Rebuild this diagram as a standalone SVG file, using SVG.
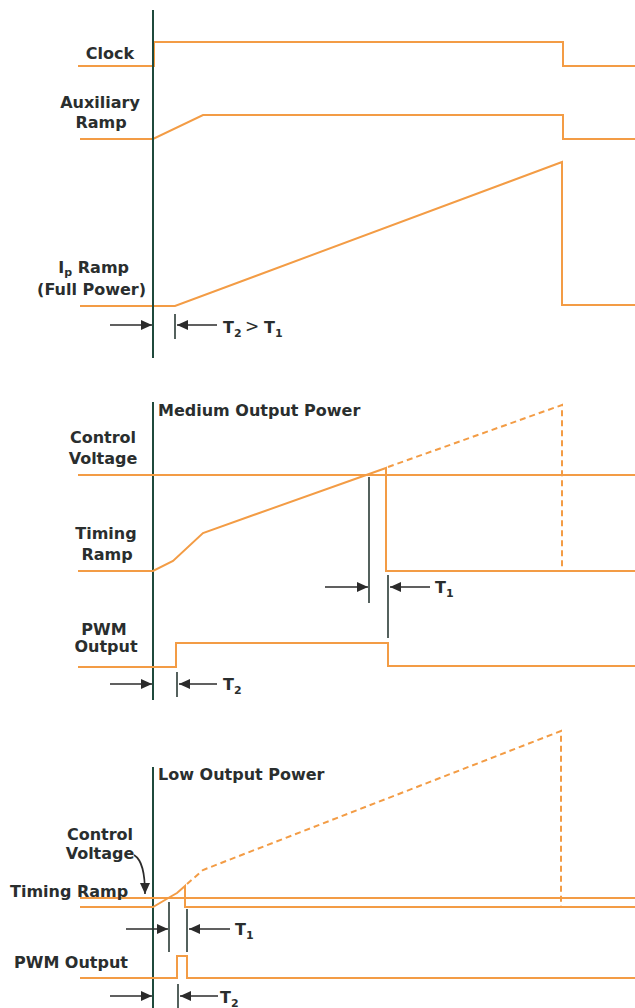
<svg xmlns="http://www.w3.org/2000/svg" width="635" height="1008" viewBox="0 0 635 1008">
<style>
.bg{fill:#ffffff}
.sig{fill:none;stroke:#f39c45;stroke-width:2;stroke-linejoin:miter}
.dash{fill:none;stroke:#f39c45;stroke-width:2;stroke-dasharray:6 4}
.axis{stroke:#1f4a3c;stroke-width:2}
.tick{stroke:#2a3a35;stroke-width:1.6}
.arr{stroke:#2b2b2b;stroke-width:1.6;fill:none;marker-end:url(#ah)}
.lbl{font-family:"DejaVu Sans",sans-serif;font-weight:bold;font-size:16px;fill:#2a2e2e}
.sub{font-size:11px}
.gt{font-family:"DejaVu Sans",sans-serif;font-weight:normal;font-size:17px;fill:#2a2e2e}
</style>
<defs>
<marker id="ah" markerUnits="userSpaceOnUse" markerWidth="12" markerHeight="10" refX="11" refY="5" orient="auto">
<path d="M0,0 L11,5 L0,10 Z" fill="#2b2b2b"/>
</marker>
</defs>
<rect class="bg" x="0" y="0" width="635" height="1008"/>

<g id="section-full-power">
<g id="clock"><text class="lbl" x="110" y="59" text-anchor="middle">Clock</text>
<polyline class="sig" points="78,66 154,66 154,42 563,42 563,66 635,66"/></g>
<g id="aux-ramp"><text class="lbl" x="100" y="108" text-anchor="middle">Auxiliary</text>
<text class="lbl" x="101" y="128" text-anchor="middle">Ramp</text>
<polyline class="sig" points="80,139 153,139 203,115 563,115 563,139 635,139"/></g>
<g id="ip-ramp"><text class="lbl" x="129" y="273" text-anchor="end">I<tspan class="sub" dy="3">p</tspan><tspan dy="-3"> Ramp</tspan></text>
<text class="lbl" x="146" y="295" text-anchor="end">(Full Power)</text>
<polyline class="sig" points="80,306 175,306 562,162 562,305 635,305"/></g>
<line class="axis" x1="153" y1="10" x2="153" y2="358"/>
<g id="t2gt1"><line class="tick" x1="175" y1="314" x2="175" y2="339"/>
<text class="lbl" x="223" y="333">T<tspan class="sub" dy="4">2</tspan></text>
<text class="gt" x="245" y="332">&gt;</text>
<text class="lbl" x="264" y="333">T<tspan class="sub" dy="4">1</tspan></text></g>
</g>

<g id="section-medium">
<line class="axis" x1="153" y1="402" x2="153" y2="700"/>
<text class="lbl" x="158" y="416">Medium Output Power</text>
<g id="control-voltage-2"><text class="lbl" x="103" y="443" text-anchor="middle">Control</text>
<text class="lbl" x="103" y="464" text-anchor="middle">Voltage</text>
<line class="sig" x1="78" y1="475" x2="635" y2="475"/></g>
<g id="timing-ramp-2"><text class="lbl" x="106" y="539" text-anchor="middle">Timing</text>
<text class="lbl" x="107" y="560" text-anchor="middle">Ramp</text>
<polyline class="sig" points="78,571 153,571 173,561 203,533 386,468 386,571 635,571"/>
<polyline class="dash" points="388,467 562,405 562,568"/></g>
<g id="pwm-2"><text class="lbl" x="104" y="635" text-anchor="middle">PWM</text>
<text class="lbl" x="106" y="652" text-anchor="middle">Output</text>
<polyline class="sig" points="78,667 176,667 176,643 388,643 388,666 635,666"/></g>
<g id="t1-2"><line class="tick" x1="369" y1="477" x2="369" y2="603"/>
<line class="tick" x1="388" y1="575" x2="388" y2="638"/>
<text class="lbl" x="435" y="593">T<tspan class="sub" dy="4">1</tspan></text></g>
<g id="t2-2"><line class="tick" x1="177" y1="672" x2="177" y2="697"/>
<text class="lbl" x="223" y="690">T<tspan class="sub" dy="4">2</tspan></text></g>
</g>

<g id="section-low">
<line class="axis" x1="153" y1="767" x2="153" y2="1008"/>
<text class="lbl" x="158" y="780">Low Output Power</text>
<g id="control-voltage-3"><text class="lbl" x="100" y="840" text-anchor="middle">Control</text>
<text class="lbl" x="100" y="859" text-anchor="middle">Voltage</text>
<line class="sig" x1="80" y1="898" x2="635" y2="898"/></g>
<g id="timing-ramp-3"><text class="lbl" x="10" y="897">Timing Ramp</text>
<polyline class="sig" points="80,907 153,907 170,897 177,893 185,886 185,907 635,907"/>
<polyline class="dash" points="187,884 203,870 561,731 561,906"/></g>
<g id="pwm-3"><text class="lbl" x="14" y="968">PWM Output</text>
<polyline class="sig" points="80,978 177,978 177,956 187,956 187,978 635,978"/></g>
<g id="t1-3"><line class="tick" x1="169" y1="902" x2="169" y2="952"/>
<line class="tick" x1="187" y1="909" x2="187" y2="952"/>
<text class="lbl" x="235" y="935">T<tspan class="sub" dy="4">1</tspan></text></g>
<g id="t2-3"><line class="tick" x1="178" y1="984" x2="178" y2="1008"/>
<text class="lbl" x="220" y="1003">T<tspan class="sub" dy="4">2</tspan></text></g>
</g>

<g id="connectors">
<line class="arr" x1="110" y1="325" x2="152" y2="325"/>
<line class="arr" x1="217" y1="325" x2="177" y2="325"/>
<line class="arr" x1="325" y1="587" x2="368" y2="587"/>
<line class="arr" x1="430" y1="587" x2="390" y2="587"/>
<line class="arr" x1="110" y1="684" x2="152" y2="684"/>
<line class="arr" x1="217" y1="684" x2="179" y2="684"/>
<path class="arr" d="M134,855 C142,860 145,872 145,894"/>
<line class="arr" x1="126" y1="929" x2="168" y2="929"/>
<line class="arr" x1="230" y1="929" x2="189" y2="929"/>
<line class="arr" x1="110" y1="996" x2="152" y2="996"/>
<line class="arr" x1="218" y1="996" x2="180" y2="996"/>
</g>
</svg>
